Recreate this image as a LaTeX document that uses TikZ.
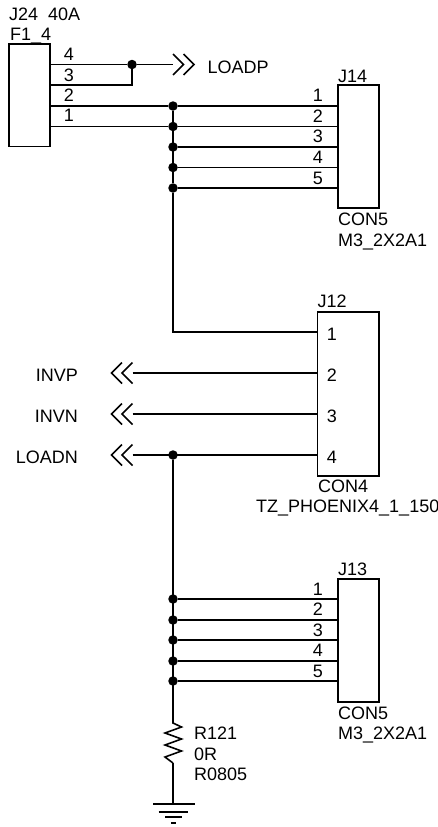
\documentclass[tikz,border=0pt]{standalone}
\usepackage{fontspec}
\setmainfont{Liberation Sans}
\tikzset{
  wire/.style={draw, line width=1.6pt},
  partbox/.style={rectangle, draw, line width=1.8pt, inner sep=0pt},
  dot/.style={circle, fill, inner sep=0pt, minimum size=9.5pt},
  lbl/.style={inline, anchor=base west},
  pinlbl/.style={inline, anchor=base},
  inline/.style={inner sep=0pt, font=\fontsize{18}{20}\selectfont},
  chevrons/.pic={
    \draw[line width=1.6pt] (0,-10.5) -- (10.5,0) -- (0,10.5);
    \draw[line width=1.6pt] (10.5,-10.5) -- (21,0) -- (10.5,10.5);
  }
}
\begin{document}
\begin{tikzpicture}[x=1pt, y=-1pt]
    \useasboundingbox (0,0) rectangle (438,827);

    % J24
    \node[partbox, minimum width=41pt, minimum height=102.5pt] (j24) at (29.5,95.2) {};
    \node[lbl] (j24ref) at (9,20.5) {J24\ \ 40A};
    \node[lbl] (j24val) at (10,40.7) {F1\_4};
    \foreach \n/\ypin/\ytxt in {4/64.5/60, 3/85/81, 2/106/101.7, 1/126.5/121.7} {
        \coordinate (j24p\n) at (50,\ypin);
        \node[pinlbl] (j24t\n) at (69,\ytxt) {\n};
    }

    % LOADP
    \node[dot] (loadpdot) at (132,64.5) {};
    \coordinate (loadpend) at (173,64.5);
    \pic at (loadpend) {chevrons};
    \node[lbl] (loadp) at (207.5,73.5) {LOADP};
    \draw[wire] (j24p4) -- (loadpdot) -- (loadpend);
    \draw[wire] (j24p3) -| (loadpdot);

    % J14
    \node[partbox, minimum width=41pt, minimum height=123pt] (j14) at (358.5,146.5) {};
    \node[lbl] (j14ref) at (338,82) {J14};
    \node[lbl] (j14val) at (338,225.7) {CON5};
    \node[lbl] (j14fp) at (338,246) {M3\_2X2A1};
    \foreach \n/\ypin/\ytxt in {1/106/101.7, 2/126.5/122, 3/147/142.7, 4/167.5/163, 5/188/184} {
        \coordinate (j14p\n) at (338,\ypin);
        \node[dot] (j14d\n) at (173,\ypin) {};
        \node[pinlbl] (j14t\n) at (318,\ytxt) {\n};
        \draw[wire] (j14d\n) -- (j14p\n);
    }
    \draw[wire] (j24p2) -- (j14d1);
    \draw[wire] (j24p1) -- (j14d2);

    % J12
    \node[partbox, minimum width=61.5pt, minimum height=164pt] (j12) at (348.2,393.7) {};
    \node[lbl] (j12ref) at (317.5,307.7) {J12};
    \node[lbl] (j12val) at (318,492) {CON4};
    \node[lbl] (j12fp) at (256,512.7) {TZ\_PHOENIX4\_1\_150};
    \foreach \n/\ypin/\ytxt in {1/332/340.7, 2/373/381.7, 3/414/422.7, 4/455/463.3} {
        \coordinate (j12p\n) at (317.5,\ypin);
        \node[pinlbl] (j12t\n) at (332,\ytxt) {\n};
    }
    \draw[wire] (j14d1) -- (j14d5) |- (j12p1);

    % Nets on the left
    \foreach \net/\n/\ypin/\ytxt in {INVP/2/373/381.7, INVN/3/414/422.7, LOADN/4/455/463.3} {
        \coordinate (end\n) at (132.5,\ypin);
        \pic[xscale=-1] at (end\n) {chevrons};
        \node[inline, anchor=base east] (net\n) at (78,\ytxt) {\net};
        \draw[wire] (end\n) -- (j12p\n);
    }
    \node[dot] (loadndot) at (173,455) {};

    % J13
    \node[partbox, minimum width=41pt, minimum height=122.7pt] (j13) at (358.5,640.3) {};
    \node[lbl] (j13ref) at (338,575) {J13};
    \node[lbl] (j13val) at (338,719) {CON5};
    \node[lbl] (j13fp) at (338,739) {M3\_2X2A1};
    \foreach \n/\ypin/\ytxt in {1/599/595, 2/620/615.5, 3/640/636, 4/661/656, 5/681/677} {
        \coordinate (j13p\n) at (338,\ypin);
        \node[dot] (j13d\n) at (173,\ypin) {};
        \node[pinlbl] (j13t\n) at (318,\ytxt) {\n};
        \draw[wire] (j13d\n) -- (j13p\n);
    }

    % R121
    \coordinate (r121top) at (173,723);
    \coordinate (r121bot) at (173,763);
    \draw[wire] (loadndot) -- (r121top)
        -- (181.5,727) -- (165,733) -- (181.5,739) -- (165,745) -- (181.5,751) -- (165,757)
        -- (r121bot);
    \node[lbl] (r121ref) at (194,739) {R121};
    \node[lbl] (r121val) at (194,760) {0R};
    \node[lbl] (r121fp) at (194,780) {R0805};

    % Ground
    \coordinate (gnd) at (173,804);
    \draw[wire] (r121bot) -- (gnd);
    \draw[wire] (153,804) -- (195,804);
    \draw[wire] (158.5,811.7) -- (188,811.7);
    \draw[wire] (165,817) -- (182,817);
    \draw[wire] (171,823) -- (176,823);
\end{tikzpicture}
\end{document}
